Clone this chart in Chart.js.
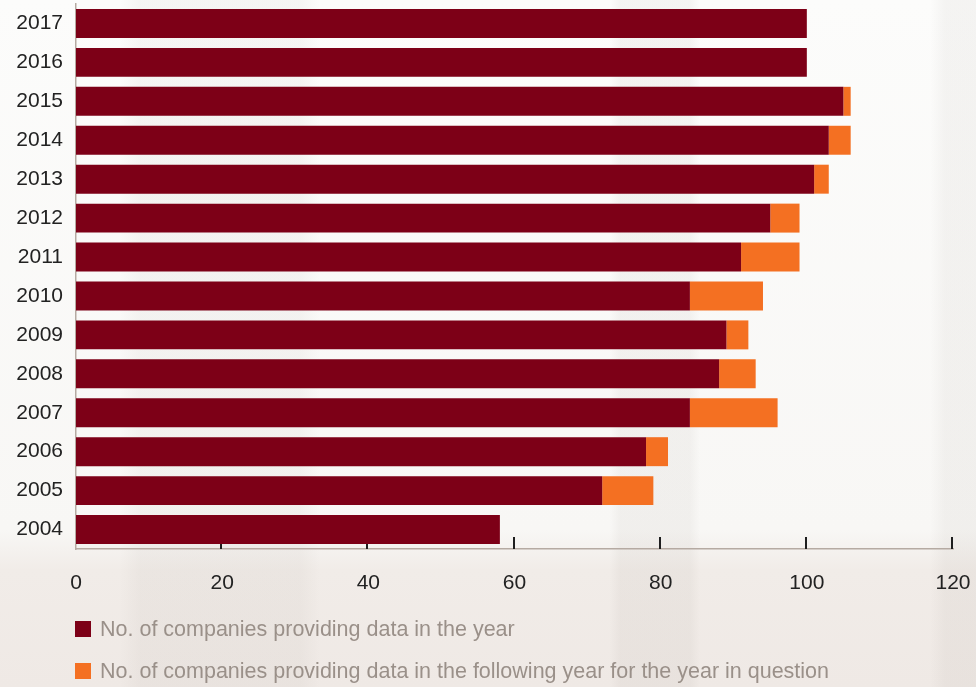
<!DOCTYPE html>
<html>
<head>
<meta charset="utf-8">
<script src="https://cdn.jsdelivr.net/npm/chart.js@4/dist/chart.umd.min.js"></script>
<style>
  html, body { margin: 0; padding: 0; }
  body {
    width: 976px; height: 687px; overflow: hidden; position: relative;
    font-family: "Liberation Sans", Arial, Helvetica, sans-serif;
    background:
      linear-gradient(to right, rgba(0,0,0,0) 0px, rgba(0,0,0,0) 120px, rgba(120,110,100,0.05) 140px, rgba(120,110,100,0.05) 300px, rgba(0,0,0,0) 320px,
                      rgba(0,0,0,0) 610px, rgba(120,110,100,0.06) 620px, rgba(120,110,100,0.06) 690px, rgba(0,0,0,0) 700px,
                      rgba(0,0,0,0) 930px, rgba(120,110,100,0.06) 945px, rgba(120,110,100,0.06) 976px),
      linear-gradient(to bottom, #fcfcfb 0px, #f8f7f5 530px, #f1ece8 570px, #efe9e5 687px);
  }
  #wrap { position: absolute; left: 0; top: 0; width: 976px; height: 687px; }
  #legend { position: absolute; left: 75px; top: 616px; margin: 0; padding: 0; list-style: none; }
  #legend li { display: flex; align-items: center; height: 26px; margin-bottom: 16px;
    font-size: 21.5px; color: #9a9089; white-space: nowrap; }
  #legend span.box { display: inline-block; width: 16px; height: 16px; margin-right: 9px; flex: none; }
</style>
</head>
<body>
<div id="wrap"><canvas id="c" width="976" height="687"></canvas></div>
<ul id="legend"></ul>
<script>
const categories = ['2017','2016','2015','2014','2013','2012','2011','2010','2009','2008','2007','2006','2005','2004'];
const inYear     = [100, 100, 105, 103, 101, 95, 91, 84, 89, 88, 84, 78, 72, 58];
const following  = [0, 0, 1, 3, 2, 4, 8, 10, 3, 5, 12, 3, 7, 0];
const seriesLabels = ['No. of companies providing data in the year',
                      'No. of companies providing data in the following year for the year in question'];
const xTicks = [0, 20, 40, 60, 80, 100, 120];
const colors = ['#7d0017', '#f47022'];

const innerTicks = {
  id: 'innerTicks',
  beforeDatasetsDraw(chart) {
    const x = chart.scales.x;
    const ctx = chart.ctx;
    ctx.save();
    ctx.strokeStyle = '#1e1e1e';
    ctx.lineWidth = 2;
    xTicks.forEach(v => {
      if (v === 0) return;
      const px = Math.round(x.getPixelForValue(v)) - 1;
      ctx.beginPath();
      ctx.moveTo(px, x.top - 12);
      ctx.lineTo(px, x.top);
      ctx.stroke();
    });
    ctx.restore();
  }
};

const font = { size: 21, family: '"Liberation Sans", Arial, sans-serif' };

const chart = new Chart(document.getElementById('c'), {
  type: 'bar',
  data: {
    labels: categories,
    datasets: [
      { label: seriesLabels[0], data: inYear, backgroundColor: colors[0], borderWidth: 0 },
      { label: seriesLabels[1], data: following, backgroundColor: colors[1], borderWidth: 0 }
    ]
  },
  options: {
    indexAxis: 'y',
    responsive: false,
    animation: false,
    devicePixelRatio: 1,
    layout: { padding: { top: 4, right: 23, left: 0, bottom: 0 } },
    datasets: { bar: { barPercentage: 0.744, categoryPercentage: 1.0 } },
    plugins: { legend: { display: false }, tooltip: { enabled: false } },
    scales: {
      x: {
        stacked: true, min: 0, max: 120,
        afterBuildTicks(s) { s.ticks = xTicks.map(v => ({ value: v })); },
        afterFit(s) { s.height = 138; s.paddingLeft = 0; s.paddingRight = 0; },
        grid: { display: false, drawTicks: false },
        border: { display: true, color: '#b5aaa2', width: 1.5 },
        ticks: { padding: 22, color: '#222', font: font }
      },
      y: {
        stacked: true,
        afterFit(s) { s.width = 76; s.paddingTop = 0; s.paddingBottom = 0; },
        grid: { display: false, drawTicks: false },
        border: { display: true, color: '#b5aaa2', width: 1.5 },
        ticks: { padding: 13, color: '#222', font: font }
      }
    }
  },
  plugins: [innerTicks]
});

const legend = document.getElementById('legend');
chart.data.datasets.forEach(ds => {
  const li = document.createElement('li');
  const box = document.createElement('span');
  box.className = 'box';
  box.style.background = ds.backgroundColor;
  li.appendChild(box);
  li.appendChild(document.createTextNode(ds.label));
  legend.appendChild(li);
});
</script>
</body>
</html>
